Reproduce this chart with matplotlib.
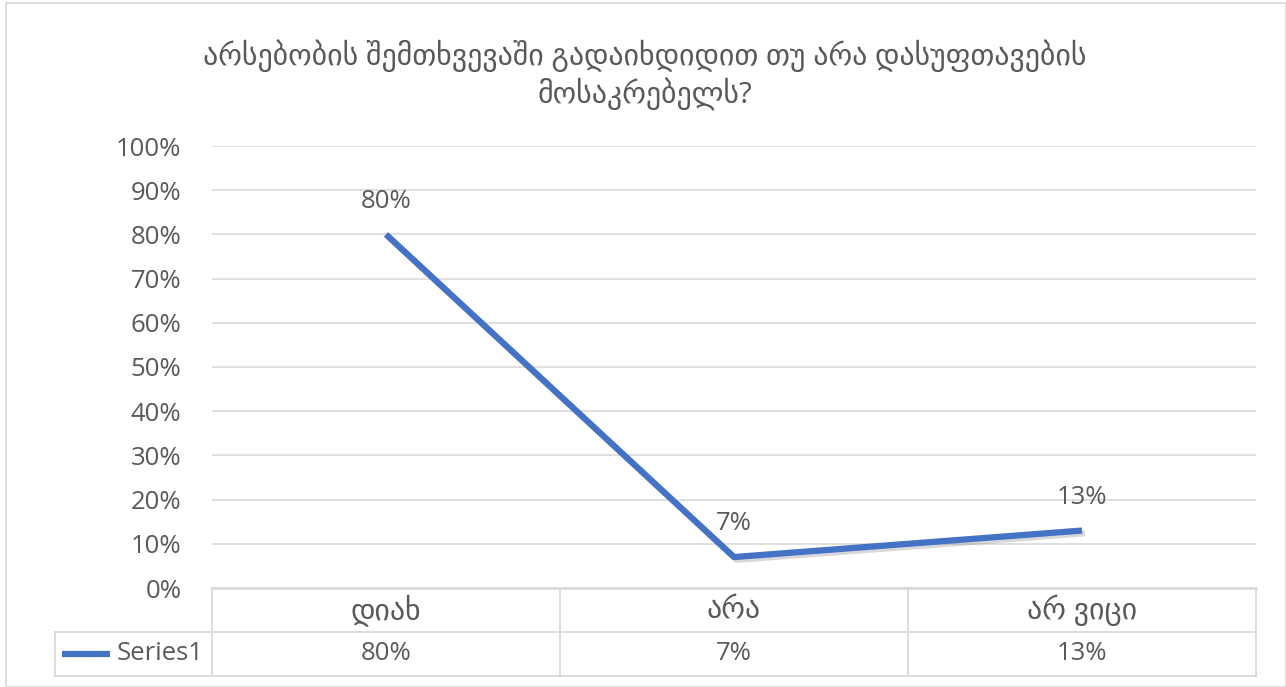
import matplotlib.pyplot as plt
import matplotlib.patheffects as pe
from matplotlib.patches import Rectangle

# data
kategoriebi = ['დიახ', 'არა', 'არ ვიცი']
mnishvnelobebi = [80, 7, 13]
seria = 'Series1'
satauri = 'არსებობის შემთხვევაში გადაიხდიდით თუ არა დასუფთავების\nმოსაკრებელს?'
y_ticks = [0, 10, 20, 30, 40, 50, 60, 70, 80, 90, 100]

shrifti = ['Open Sans', 'DejaVu Sans']
plt.rcParams['font.family'] = shrifti
txt = '#595959'
grid_c = '#D9D9D9'
lurji = '#4472C4'
fs = 18.5       # numbers / latin
fs_ka = 21.5    # georgian text

fig = plt.figure(figsize=(12.86, 6.87), dpi=100)
fig.patches.append(Rectangle((6 / 1286, 0.0), 1 - 6 / 1286, 1 - 3 / 687,
                             transform=fig.transFigure, fill=False,
                             edgecolor=grid_c, linewidth=1.2))

ax = fig.add_axes([212 / 1286, (687 - 588) / 687, 1044 / 1286, 442 / 687])
x = list(range(len(kategoriebi)))

ax.plot(x, mnishvnelobebi, color=lurji, linewidth=4.5, solid_capstyle='butt',
        zorder=3,
        path_effects=[pe.SimpleLineShadow(offset=(2, -2), shadow_color='#7f7f7f', alpha=0.3),
                      pe.Normal()])

for xi, v in zip(x, mnishvnelobebi):
    ax.annotate(f'{v}%', (xi, v), xytext=(0, 15), textcoords='offset points',
                ha='center', va='bottom', fontsize=fs, color=txt)

ax.set_xlim(-0.5, len(kategoriebi) - 0.5)
ax.set_ylim(0, 100)
ax.set_yticks(y_ticks)
ax.set_yticklabels([f'{t}%' for t in y_ticks], fontsize=fs, color=txt)
ax.tick_params(axis='y', length=0, pad=22)
ax.set_xticks([])
ax.grid(axis='y', color=grid_c, linewidth=1.2)
ax.set_axisbelow(True)
for s in ax.spines.values():
    s.set_visible(False)

fig.text(645 / 1286, 1 - 75 / 687, satauri, ha='center', va='center',
         fontsize=fs_ka, color=txt, linespacing=1.2)

# data table below the axes
tr = ax.get_xaxis_transform()
row_h = 44 / 442
y0, y1, y2 = 0, -row_h, -2 * row_h
kw = dict(color=grid_c, linewidth=1.3, transform=tr, clip_on=False)
ax.plot([-0.5, 2.5], [y0, y0], color=grid_c, linewidth=1.8, transform=tr, clip_on=False)
left_x = -0.5 - 157 / 348
for yy in (y1, y2):
    ax.plot([left_x, 2.5], [yy, yy], **kw)
for xx in [-0.5, 0.5, 1.5, 2.5]:
    ax.plot([xx, xx], [y0, y2], **kw)
ax.plot([left_x, left_x], [y1, y2], **kw)

for xi, k, v in zip(x, kategoriebi, mnishvnelobebi):
    ax.text(xi, (y0 + y1) / 2, k, transform=tr, ha='center', va='center',
            fontsize=fs_ka, color=txt)
    ax.text(xi, (y1 + y2) / 2, f'{v}%', transform=tr, ha='center', va='center',
            fontsize=fs, color=txt)

ym = (y1 + y2) / 2
ax.plot([left_x + 7 / 348, left_x + 55 / 348], [ym, ym], color=lurji, linewidth=4.5,
        transform=tr, clip_on=False, solid_capstyle='butt')
ax.text(left_x + 62 / 348, ym, seria, transform=tr, ha='left', va='center',
        fontsize=fs, color=txt)

fig.savefig('out.png', dpi=100)
